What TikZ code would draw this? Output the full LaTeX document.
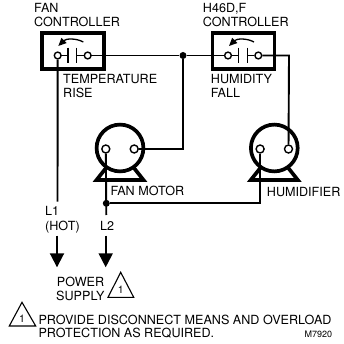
\documentclass[tikz,border=0pt]{standalone}
\usepackage{fontspec}
\setmainfont{TeX Gyre Heros}
\usetikzlibrary{arrows.meta}
\tikzset{
  wire/.style={line width=1.9pt},
  heavy/.style={line width=3.7pt},
  thin tri/.style={line width=1.1pt, line join=miter},
  term/.style={circle, draw, fill=white, line width=1.4pt, inner sep=0pt, minimum size=6.8pt},
  bigterm/.style={term, minimum size=8pt},
  dot/.style={circle, fill=black, inner sep=0pt, minimum size=7pt},
  lbl/.style={anchor=base west, inner sep=0pt, font=\fontsize{12.6}{14}\selectfont},
  feed/.style={wire, -{Triangle[length=14pt,width=14pt]}},
  swing/.style={line width=1.3pt, -{Triangle[length=8pt,width=7pt]}}
}
\begin{document}
\begin{tikzpicture}[x=1pt,y=-1pt]
    \useasboundingbox (0,0) rectangle (343,344);
    % controllers
    \draw [heavy] (42,32.8) rectangle (104,69);
    \draw [heavy] (212.5,32.8) rectangle (274.5,69);
    % contacts
    \node [term] (fanl) at (57.7,55.5) {};
    \node [term] (fanr) at (87.7,55.5) {};
    \node [term] (huml) at (228,55.5) {};
    \node [term] (humr) at (258.3,55.5) {};
    \foreach \sw/\xa/\xb in {fan/68/76.7, hum/238.8/247.3} {
        \coordinate (\sw a) at (\xa,55.5);
        \coordinate (\sw b) at (\xb,55.5);
        \draw [line width=1.3pt] (\xa,47.7) -- (\xa,62.7);
        \draw [line width=1.3pt] (\xb,47.7) -- (\xb,62.7);
    }
    \draw [line width=1.3pt] (fanl) -- (fana);
    \draw [line width=1.3pt] (fanb) -- (fanr);
    \draw [line width=1.3pt] (huml) -- (huma);
    \draw [line width=1.3pt] (humb) -- (humr);
    \draw [swing] (83.3,42) .. controls (76,38) and (66,38.5) .. (58.3,46);
    \draw [swing] (254,42) .. controls (246.7,38) and (236.7,38.5) .. (229,46);
    % motors
    \foreach \cx/\mot in {120/fanm, 274.3/humm} {
        \draw [heavy, line join=miter] (\cx-14,168) -- (\cx-23.5,180) -- (\cx+23.5,180) -- (\cx+14,168);
        \draw [heavy, fill=white] (\cx,148) circle [radius=23.4];
        \node [bigterm] (\mot l) at (\cx-14.2,149) {};
        \node [bigterm] (\mot r) at (\cx+14.2,149) {};
    }
    % wiring
    \node [dot] (top) at (183,55.5) {};
    \node [dot] (bot) at (106.3,203.3) {};
    \coordinate (l1end) at (57.5,201.7);
    \coordinate (l2end) at (106.3,215);
    \coordinate (humcorner) at (289,55.5);
    \draw [wire] (fanr) -- (top);
    \draw [wire] (top) -- (huml);
    \draw [wire] (humr) -- (humcorner) -- (hummr);
    \draw [wire] (top) |- (fanmr);
    \draw [wire] (fanml) -- (l2end);
    \draw [wire] (bot) -| (humml);
    \draw [wire] (fanl) -- (l1end);
    % supply arrows
    \coordinate (l1a) at (57,235.7);
    \coordinate (l1b) at (57,267.3);
    \coordinate (l2a) at (105.7,235.7);
    \coordinate (l2b) at (105.7,267.3);
    \draw [feed] (l1a) -- (l1b);
    \draw [feed] (l2a) -- (l2b);
    % warning triangles
    \draw [thin tri] (120.7,272.3) -- (108,297.3) -- (133.7,297.3) -- cycle;
    \draw [thin tri] (22,302.3) -- (9.3,326) -- (35.7,326) -- cycle;
    \node [anchor=base, inner sep=0pt, font=\fontsize{10.5}{12}\selectfont] (one) at (120.7,293) {1};
    \node [anchor=base, inner sep=0pt, font=\fontsize{10.5}{12}\selectfont] (two) at (22,322.5) {1};
    % labels
    \node [lbl] (fan) at (34,12.3) {FAN};
    \node [lbl] (fanc) at (34,26.7) {CONTROLLER};
    \node [lbl] (temp) at (63,84) {TEMPERATURE};
    \node [lbl] (rise) at (63,98) {RISE};
    \node [lbl] (hfd) at (202.7,12.3) {H46D,F};
    \node [lbl] (humc) at (202.7,26.7) {CONTROLLER};
    \node [lbl] (humid) at (210.7,84) {HUMIDITY};
    \node [lbl] (fall) at (210.7,98) {FALL};
    \node [lbl] (motor) at (110.3,195.7) {FAN MOTOR};
    \node [lbl] (humf) at (266.7,196.7) {HUMIDIFIER};
    \node [lbl] (lone) at (45,215.5) {L1};
    \node [lbl] (hot) at (45,230.7) {(HOT)};
    \node [lbl] (ltwo) at (100,230.7) {L2};
    \node [lbl] (pow) at (56.7,286) {POWER};
    \node [lbl] (sup) at (56,300) {SUPPLY};
    \node [lbl] (prov) at (38.3,324) {PROVIDE DISCONNECT MEANS AND OVERLOAD};
    \node [lbl] (prot) at (38.3,337.3) {PROTECTION AS REQUIRED.};
    \node [lbl, font=\fontsize{9}{11}\selectfont] (num) at (304.3,337.3) {M7920};
\end{tikzpicture}
\end{document}
